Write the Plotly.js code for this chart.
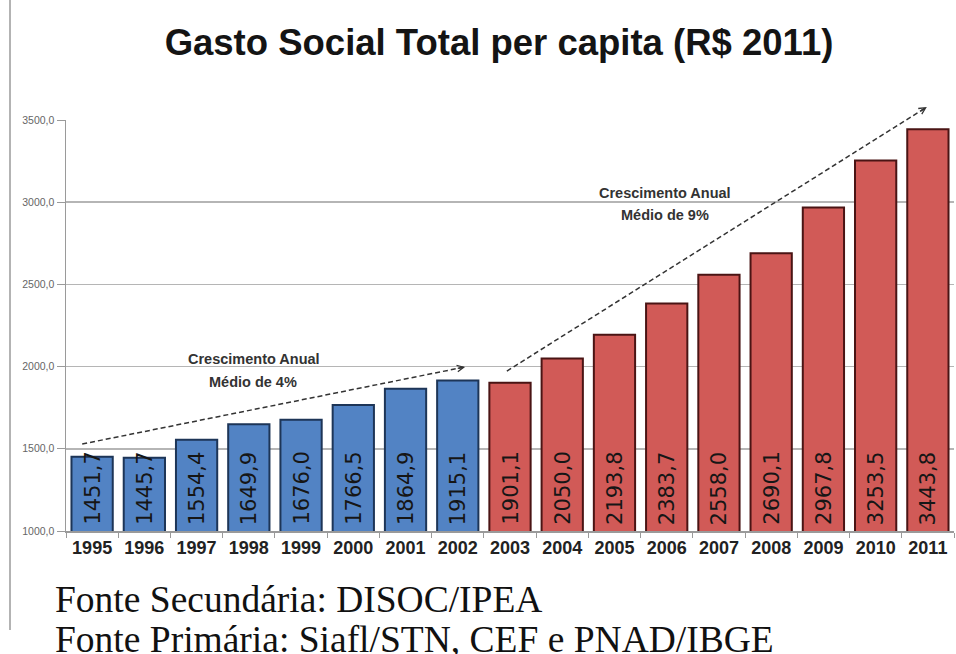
<!DOCTYPE html>
<html>
<head>
<meta charset="utf-8">
<script src="https://cdn.plot.ly/plotly-3.0.1.min.js"></script>
<style>html,body{margin:0;padding:0;background:#fff;} #chart{width:956px;height:654px;}</style>
</head>
<body>
<div id="chart"></div>
<script>
// ---- data ----
const years = ['1995','1996','1997','1998','1999','2000','2001','2002','2003','2004','2005','2006','2007','2008','2009','2010','2011'];
const gasto = [1451.7,1445.7,1554.4,1649.9,1676.0,1766.5,1864.9,1915.1,1901.1,2050.0,2193.8,2383.7,2558.0,2690.1,2967.8,3253.5,3443.8];
const chartTitle = 'Gasto Social Total per capita (R$ 2011)';
const growthLabels1 = ['Crescimento Anual', 'Médio de 4%'];
const growthLabels2 = ['Crescimento Anual', 'Médio de 9%'];
const footers = ['Fonte Secundária: DISOC/IPEA', 'Fonte Primária: Siafl/STN, CEF e PNAD/IBGE'];
// trend arrows: [xIndexStart, valueStart, xIndexEnd, valueEnd]
const trend1 = [-0.19, 1529, 7.14, 1998];
const trend2 = [7.94, 1973, 15.98, 3579];

// ---- layout helpers ----
const W = 956, H = 654;
const M = {l: 66, r: 2, t: 120, b: 123};
const Y0 = 1000, Y1 = 3500;
const plotH = H - M.t - M.b, plotW = W - M.l - M.r;
const v2p = v => (v - Y0) / (Y1 - Y0);
const py2p = py => (H - M.b - py) / plotH;
const px2p = px => (px - M.l) / plotW;

const colors = years.map(y => +y < 2003 ? '#5283c4' : '#d15a57');
const borders = years.map(y => +y < 2003 ? '#1d3557' : '#4a1414');

const trace = {
  type: 'bar',
  x: years,
  y: gasto,
  marker: {color: colors, line: {color: borders, width: 2}},
  hoverinfo: 'skip'
};

// value labels inside bars, reading bottom-to-top from the base
const valueLabels = years.map((yr, i) => ({
  xref: 'x', yref: 'y', x: i, y: Y0, yshift: 4,
  text: gasto[i].toFixed(1).replace('.', ','),
  textangle: -90, showarrow: false, xanchor: 'center', yanchor: 'bottom',
  font: {family: 'DejaVu Sans', size: 21, color: '#161616'}
}));

function trendShape(t) {
  return {type: 'line', xref: 'x', yref: 'paper',
    x0: t[0], y0: v2p(t[1]), x1: t[2], y1: v2p(t[3]),
    line: {color: '#333333', width: 1.5, dash: '5px,3px'}};
}
function trendHead(t, dx, dy) {
  const len = Math.hypot(dx, dy);
  return {xref: 'x', yref: 'paper', x: t[2], y: v2p(t[3]), text: '',
    showarrow: true, arrowhead: 5, arrowsize: 1, arrowwidth: 1.3, arrowcolor: '#333333',
    axref: 'pixel', ayref: 'pixel', ax: -dx / len * 9, ay: -dy / len * 9, standoff: 0};
}
const labFont = {family: 'Liberation Sans', size: 14.5, color: '#333333'};
function lab(text, x, y) {
  return {xref: 'x', yref: 'y', x: x, y: y, text: '<b>' + text + '</b>', showarrow: false,
    font: labFont, xanchor: 'center', yanchor: 'middle'};
}

const layout = {
  width: W, height: H,
  margin: M,
  paper_bgcolor: '#ffffff', plot_bgcolor: '#ffffff',
  separators: ',.',
  showlegend: false,
  bargap: 0.21,
  title: {text: '<b>' + chartTitle + '</b>', x: 499 / W, xref: 'container', xanchor: 'center',
    y: 1 - 42 / H, yref: 'container', yanchor: 'middle',
    font: {family: 'Liberation Sans', size: 36.5, color: '#141414'}},
  xaxis: {type: 'category', range: [-0.5, years.length - 0.5], tickson: 'boundaries', ticks: 'outside', ticklen: 5, tickcolor: '#9a9a9a',
    showline: true, linecolor: '#9a9a9a', linewidth: 1.5, showgrid: false,
    tickfont: {family: 'Liberation Sans', size: 18, color: '#222222'}, tickprefix: '<b>', ticksuffix: '</b>',
    fixedrange: true},
  yaxis: {range: [Y0, Y1], dtick: 500, tickformat: '.1f', ticks: 'outside', ticklen: 8, tickcolor: '#9a9a9a',
    showline: true, linecolor: '#9a9a9a', linewidth: 1.5,
    showgrid: true, gridcolor: '#b5b5b5', gridwidth: 1.5, zeroline: false,
    tickfont: {family: 'Liberation Sans', size: 10.5, color: '#666666'}, fixedrange: true},
  shapes: [
    trendShape(trend1), trendShape(trend2),
    {type: 'line', xref: 'paper', yref: 'paper', x0: px2p(10), x1: px2p(10), y0: py2p(630), y1: py2p(0),
      line: {color: '#9a9a9a', width: 1.5}}
  ],
  annotations: valueLabels.concat([
    trendHead(trend1, 383, -77), trendHead(trend2, 420, -264),
    lab(growthLabels1[0], 3.10, 2046), lab(growthLabels1[1], 3.08, 1906),
    lab(growthLabels2[0], 10.97, 3056), lab(growthLabels2[1], 10.97, 2922),
    {xref: 'paper', yref: 'paper', x: px2p(53), y: py2p(599.5), xanchor: 'left', yanchor: 'middle',
      text: footers[0], showarrow: false, font: {family: 'Liberation Serif', size: 37.5, color: '#111111'}},
    {xref: 'paper', yref: 'paper', x: px2p(53), y: py2p(639.5), xanchor: 'left', yanchor: 'middle',
      text: footers[1], showarrow: false, font: {family: 'Liberation Serif', size: 37.5, color: '#111111'}}
  ])
};

Plotly.newPlot('chart', [trace], layout, {displayModeBar: false, staticPlot: true});
</script>
</body>
</html>
